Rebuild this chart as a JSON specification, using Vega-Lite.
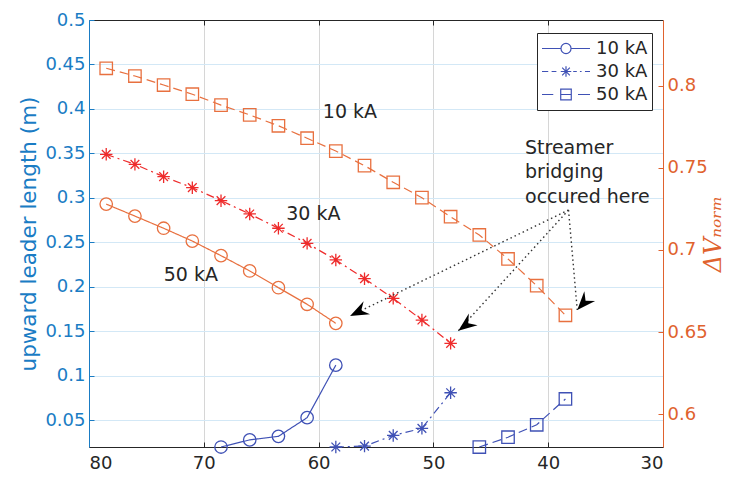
{
  "$schema": "https://vega.github.io/schema/vega-lite/v6.json",
  "width": 574,
  "height": 427,
  "autosize": {"type": "none"},
  "padding": {"left": 89, "top": 20, "right": 81, "bottom": 31},
  "background": "white",
  "config": {"view": {"stroke": null}, "font": "DejaVu Sans"},
  "datasets": {
    "leader": [
      {"current": "10 kA", "x": 68.5, "y": 0.02},
      {"current": "10 kA", "x": 66, "y": 0.028},
      {"current": "10 kA", "x": 63.5, "y": 0.032},
      {"current": "10 kA", "x": 61, "y": 0.053},
      {"current": "10 kA", "x": 58.5, "y": 0.112},
      {"current": "30 kA", "x": 58.5, "y": 0.02},
      {"current": "30 kA", "x": 56, "y": 0.021},
      {"current": "30 kA", "x": 53.5, "y": 0.033},
      {"current": "30 kA", "x": 51, "y": 0.041},
      {"current": "30 kA", "x": 48.5, "y": 0.081},
      {"current": "50 kA", "x": 46, "y": 0.02},
      {"current": "50 kA", "x": 43.5, "y": 0.031},
      {"current": "50 kA", "x": 41, "y": 0.045},
      {"current": "50 kA", "x": 38.5, "y": 0.074}
    ],
    "dv": [
      {"current": "10 kA", "x": 78.5, "v": 0.8106},
      {"current": "10 kA", "x": 76, "v": 0.8059},
      {"current": "10 kA", "x": 73.5, "v": 0.8004},
      {"current": "10 kA", "x": 71, "v": 0.7948},
      {"current": "10 kA", "x": 68.5, "v": 0.7882},
      {"current": "10 kA", "x": 66, "v": 0.7822},
      {"current": "10 kA", "x": 63.5, "v": 0.7756},
      {"current": "10 kA", "x": 61, "v": 0.768},
      {"current": "10 kA", "x": 58.5, "v": 0.7602},
      {"current": "10 kA", "x": 56, "v": 0.7513},
      {"current": "10 kA", "x": 53.5, "v": 0.7412},
      {"current": "10 kA", "x": 51, "v": 0.7318},
      {"current": "10 kA", "x": 48.5, "v": 0.7202},
      {"current": "10 kA", "x": 46, "v": 0.7091},
      {"current": "10 kA", "x": 43.5, "v": 0.6945},
      {"current": "10 kA", "x": 41, "v": 0.6782},
      {"current": "10 kA", "x": 38.5, "v": 0.6602},
      {"current": "30 kA", "x": 78.5, "v": 0.7582},
      {"current": "30 kA", "x": 76, "v": 0.7521},
      {"current": "30 kA", "x": 73.5, "v": 0.7446},
      {"current": "30 kA", "x": 71, "v": 0.7379},
      {"current": "30 kA", "x": 68.5, "v": 0.730},
      {"current": "30 kA", "x": 66, "v": 0.7219},
      {"current": "30 kA", "x": 63.5, "v": 0.7132},
      {"current": "30 kA", "x": 61, "v": 0.704},
      {"current": "30 kA", "x": 58.5, "v": 0.6939},
      {"current": "30 kA", "x": 56, "v": 0.6825},
      {"current": "30 kA", "x": 53.5, "v": 0.6705},
      {"current": "30 kA", "x": 51, "v": 0.6573},
      {"current": "30 kA", "x": 48.5, "v": 0.6431},
      {"current": "50 kA", "x": 78.5, "v": 0.7279},
      {"current": "50 kA", "x": 76, "v": 0.7206},
      {"current": "50 kA", "x": 73.5, "v": 0.7132},
      {"current": "50 kA", "x": 71, "v": 0.7054},
      {"current": "50 kA", "x": 68.5, "v": 0.6965},
      {"current": "50 kA", "x": 66, "v": 0.6872},
      {"current": "50 kA", "x": 63.5, "v": 0.677},
      {"current": "50 kA", "x": 61, "v": 0.6669},
      {"current": "50 kA", "x": 58.5, "v": 0.6553}
    ],
    "arrows": [
      {"target": "50 kA", "x0": 38.23, "y0": 0.2864, "x1": 57.26, "y1": 0.1673},
      {"target": "30 kA", "x0": 38.23, "y0": 0.2864, "x1": 47.83, "y1": 0.1508},
      {"target": "10 kA", "x0": 38.23, "y0": 0.2864, "x1": 37.47, "y1": 0.174}
    ],
    "labels": [
      {"label": "10 kA", "x": 57.27, "y": 0.3969},
      {"label": "30 kA", "x": 60.46, "y": 0.2823},
      {"label": "50 kA", "x": 71.13, "y": 0.2134}
    ],
    "note": [
      {"label": "Streamer\nbridging\noccured here", "x": 42.02, "y": 0.3494}
    ]
  },
  "layer": [
    {
      "data": {"name": "dv"},
      "encoding": {
        "x": {
          "field": "x", "type": "quantitative",
          "scale": {"domain": [30, 80], "reverse": true, "nice": false, "zero": false},
          "axis": {"orient": "top", "values": [70, 60, 50, 40], "labels": false, "title": null, "grid": false, "domainColor": "#262626", "tickColor": "#262626", "tickSize": -5}
        },
        "y": {
          "field": "v", "type": "quantitative",
          "scale": {"domain": [0.58, 0.84], "nice": false, "zero": false},
          "axis": {
            "orient": "right", "values": [0.6, 0.65, 0.7, 0.75, 0.8], "format": ".2~f",
            "title": "ΔVₙₒᵣₘ", "titleFont": "DejaVu Serif", "titleFontStyle": "italic", "titleFontSize": 24, "titleFontWeight": "normal",
            "titleAngle": 270, "titleBaseline": "top", "titleColor": "#E0622E", "titlePadding": -6,
            "labelColor": "#E0622E", "labelFontSize": 18, "labelFont": "DejaVu Sans", "labelPadding": 9,
            "domainColor": "#E0622E", "tickColor": "#E0622E", "tickSize": -5, "grid": false
          }
        },
        "color": {"field": "current", "type": "nominal", "scale": {"domain": ["10 kA", "30 kA", "50 kA"], "range": ["#E8703F", "#EE2B2B", "#E8703F"]}, "legend": null}
      },
      "layer": [
        {
          "mark": {"type": "line", "strokeWidth": 1.2},
          "encoding": {
            "strokeDash": {"field": "current", "type": "nominal", "scale": {"domain": ["10 kA", "30 kA", "50 kA"], "range": [[9, 5], [8, 4, 2, 4], [1, 0]]}, "legend": null}
          }
        },
        {
          "mark": {"type": "point", "filled": false, "strokeWidth": 1.3, "size": 155, "opacity": 1},
          "encoding": {
            "shape": {"field": "current", "type": "nominal", "scale": {"domain": ["10 kA", "30 kA", "50 kA"], "range": ["square", "M0,-1V1M-1,0H1M-0.7,-0.7L0.7,0.7M-0.7,0.7L0.7,-0.7", "circle"]}, "legend": null}
          }
        }
      ]
    },
    {
      "layer": [
        {
          "data": {"name": "leader"},
          "mark": {"type": "line", "color": "#3F51B5", "strokeWidth": 1.2},
          "encoding": {
            "x": {
              "field": "x", "type": "quantitative",
              "scale": {"domain": [30, 80], "reverse": true, "nice": false, "zero": false},
              "axis": {
                "orient": "bottom", "values": [80, 70, 60, 50, 40, 30], "title": null, "format": "d",
                "grid": true, "gridColor": "#D6D6D6", "domainColor": "#262626", "tickColor": "#262626", "tickSize": -5,
                "labelFontSize": 18, "labelColor": "#262626", "labelFont": "DejaVu Sans", "labelPadding": 12
              }
            },
            "y": {
              "field": "y", "type": "quantitative", "title": "upward leader length (m)",
              "scale": {"domain": [0.02, 0.5], "nice": false, "zero": false},
              "axis": {
                "orient": "left", "values": [0.05, 0.1, 0.15, 0.2, 0.25, 0.3, 0.35, 0.4, 0.45, 0.5], "format": ".2~f",
                "title": "upward leader length (m)", "titleColor": "#1A7CC4", "titleFontSize": 21.5, "titleFontWeight": "normal", "titleFont": "DejaVu Sans", "titlePadding": 4,
                "labelColor": "#1A7CC4", "labelFontSize": 18, "labelFont": "DejaVu Sans", "labelPadding": 9,
                "domainColor": "#1A7CC4", "tickColor": "#1A7CC4", "tickSize": -5, "grid": true, "gridColor": "#D3E8F6"
              }
            },
            "strokeDash": {"field": "current", "type": "nominal", "scale": {"domain": ["10 kA", "30 kA", "50 kA"], "range": [[1, 0], [8, 4, 2, 4], [9, 5]]}, "legend": null}
          }
        },
        {
          "data": {"name": "leader"},
          "mark": {"type": "point", "filled": false, "color": "#3F51B5", "strokeWidth": 1.3, "size": 155, "opacity": 1},
          "encoding": {
            "x": {"field": "x", "type": "quantitative"},
            "y": {"field": "y", "type": "quantitative", "title": "upward leader length (m)"},
            "shape": {
              "field": "current", "type": "nominal",
              "scale": {"domain": ["10 kA", "30 kA", "50 kA"], "range": ["circle", "M0,-1V1M-1,0H1M-0.7,-0.7L0.7,0.7M-0.7,0.7L0.7,-0.7", "square"]},
              "legend": null
            }
          }
        },
        {
          "data": {"name": "leader"},
          "mark": {"type": "point", "filled": false, "color": "#3F51B5", "strokeWidth": 1.2, "size": 2304, "opacity": 0},
          "encoding": {
            "x": {"field": "x", "type": "quantitative"},
            "y": {"field": "y", "type": "quantitative", "title": "upward leader length (m)"},
            "shape": {
              "field": "current", "type": "nominal",
              "scale": {"domain": ["10 kA", "30 kA", "50 kA"], "range": [
                "M-1,0H-0.21M0.21,0H1M-0.21,0A0.21,0.21,0,1,1,0.21,0A0.21,0.21,0,1,1,-0.21,0",
                "M-1,0H-0.74M-0.6,0H-0.4M0.3,0H0.45M0.58,0H0.65M0.79,0H1M0,-0.22V0.22M-0.22,0H0.22M-0.16,-0.16L0.16,0.16M-0.16,0.16L0.16,-0.16",
                "M-1,0H-0.53M-0.22,0H0.22M0.5,0H1M-0.22,-0.22H0.22V0.22H-0.22Z"
              ]},
              "legend": {
                "title": null, "orient": "none", "legendX": 448, "legendY": 13, "padding": 4,
                "strokeColor": "#262626", "fillColor": "white",
                "labelFontSize": 18, "labelColor": "#262626", "labelFont": "DejaVu Sans",
                "symbolSize": 2304, "clipHeight": 23, "labelOffset": 5, "symbolStrokeWidth": 1.2, "rowPadding": 0,
                "symbolStrokeColor": "#3F51B5", "symbolFillColor": "transparent", "symbolOpacity": 1
              }
            }
          }
        },
        {
          "data": {"name": "arrows"},
          "mark": {"type": "rule", "color": "#333333", "strokeDash": [1.5, 3], "strokeWidth": 1.4},
          "encoding": {
            "x": {"field": "x0", "type": "quantitative"},
            "y": {"field": "y0", "type": "quantitative", "title": "upward leader length (m)"},
            "x2": {"field": "x1"},
            "y2": {"field": "y1"}
          }
        },
        {
          "data": {"name": "arrows"},
          "mark": {"type": "point", "shape": "M0,0L0.7,1.8L0,1.2L-0.7,1.8Z", "filled": true, "color": "black", "size": 430, "opacity": 1},
          "encoding": {
            "x": {"field": "x1", "type": "quantitative"},
            "y": {"field": "y1", "type": "quantitative", "title": "upward leader length (m)"},
            "angle": {"field": "target", "type": "nominal", "scale": {"domain": ["50 kA", "30 kA", "10 kA"], "range": [244, 222, 175]}, "legend": null}
          }
        },
        {
          "data": {"name": "labels"},
          "mark": {"type": "text", "fontSize": 19, "color": "#262626", "align": "center", "baseline": "middle", "font": "DejaVu Sans"},
          "encoding": {
            "x": {"field": "x", "type": "quantitative"},
            "y": {"field": "y", "type": "quantitative", "title": "upward leader length (m)"},
            "text": {"field": "label"}
          }
        },
        {
          "data": {"name": "note"},
          "mark": {"type": "text", "fontSize": 19, "color": "#262626", "align": "left", "baseline": "alphabetic", "lineBreak": "\n", "lineHeight": 24.5, "font": "DejaVu Sans"},
          "encoding": {
            "x": {"field": "x", "type": "quantitative"},
            "y": {"field": "y", "type": "quantitative", "title": "upward leader length (m)"},
            "text": {"field": "label"}
          }
        }
      ],
      "resolve": {"scale": {"shape": "independent"}, "legend": {"shape": "independent"}}
    }
  ],
  "resolve": {
    "scale": {"y": "independent", "shape": "independent", "strokeDash": "independent", "color": "independent"},
    "axis": {"x": "independent", "y": "independent"},
    "legend": {"shape": "independent"}
  }
}
